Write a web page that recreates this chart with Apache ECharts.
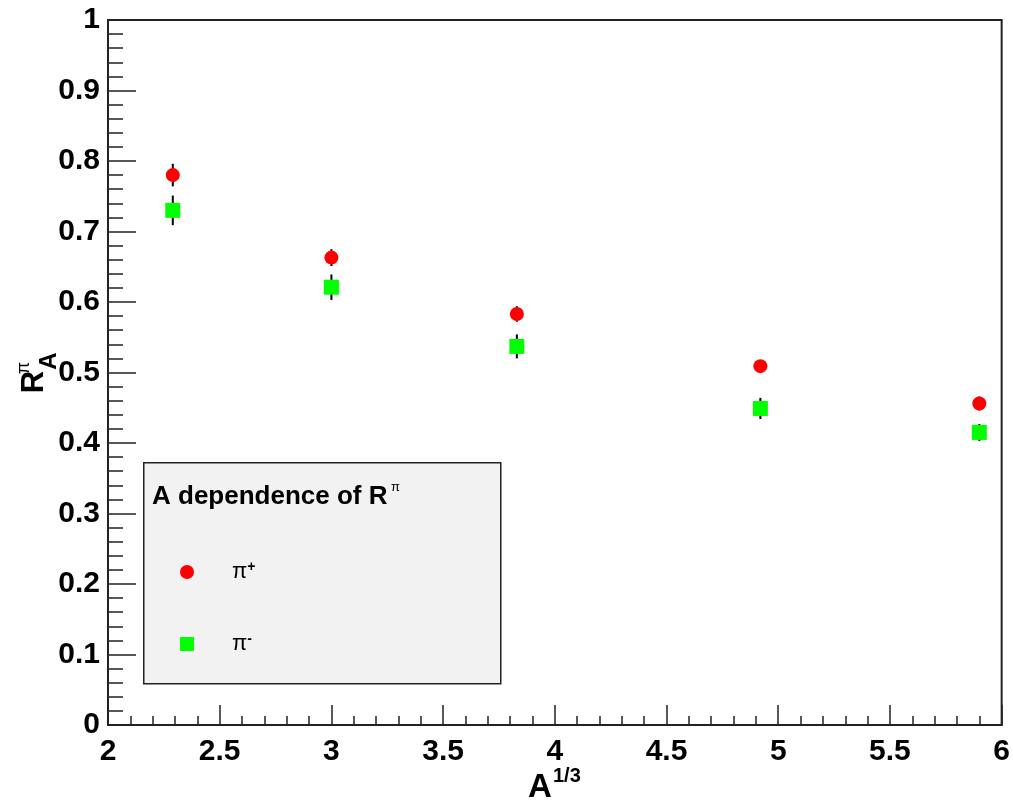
<!DOCTYPE html>
<html>
<head>
<meta charset="utf-8">
<script src="https://cdn.jsdelivr.net/npm/echarts@6/dist/echarts.min.js"></script>
<style>
  html, body { margin: 0; padding: 0; background: #fff; }
  #chart { width: 1013px; height: 801px; }
</style>
</head>
<body>
<div id="chart"></div>
<script>
// A^(1/3) of each target and the measured R_A for pi+ / pi-
const aThird = [2.29, 3.0, 3.83, 4.92, 5.90];
const piPlus = [0.780, 0.663, 0.583, 0.509, 0.456];
const piPlusErr = [0.016, 0.012, 0.011, 0.008, 0.010];
const piMinus = [0.730, 0.621, 0.537, 0.449, 0.415];
const piMinusErr = [0.021, 0.018, 0.017, 0.015, 0.012];

const font = 'Liberation Sans, Arial, sans-serif';
const chart = echarts.init(document.getElementById('chart'));

// points as [x, y, err]
function points(ys, errs) {
  return aThird.map((x, i) => [x, ys[i], errs[i]]);
}

function errorBars(name, ys, errs) {
  return {
    name: name + '_err',
    type: 'custom',
    z: 1,
    silent: true,
    data: points(ys, errs),
    renderItem(params, api) {
      const x = api.value(0), y = api.value(1), e = api.value(2);
      const p1 = api.coord([x, y - e]);
      const p2 = api.coord([x, y + e]);
      return {
        type: 'line',
        shape: { x1: p1[0], y1: p1[1], x2: p2[0], y2: p2[1] },
        style: { stroke: '#000', lineWidth: 2 }
      };
    }
  };
}

const option = {
  backgroundColor: '#fff',
  animation: false,
  grid: {
    left: 108, right: 11, top: 20, bottom: 76,
    show: true, borderColor: '#222', borderWidth: 2, backgroundColor: 'transparent'
  },
  xAxis: {
    type: 'value', min: 2, max: 6, interval: 0.5,
    axisLine: { show: true, lineStyle: { color: '#222', width: 2 } },
    axisTick: { show: true, inside: true, length: 20, lineStyle: { color: '#222', width: 1.5 } },
    minorTick: { show: true, splitNumber: 5, length: 9, lineStyle: { color: '#222', width: 1.5 } },
    splitLine: { show: false },
    axisLabel: { color: '#000', fontSize: 30, fontWeight: 'bold', fontFamily: font, margin: 12 }
  },
  yAxis: {
    type: 'value', min: 0, max: 1, interval: 0.1,
    axisLine: { show: true, lineStyle: { color: '#222', width: 2 } },
    axisTick: { show: true, inside: true, length: 28, lineStyle: { color: '#222', width: 1.5 } },
    minorTick: { show: true, splitNumber: 5, length: 15, lineStyle: { color: '#222', width: 1.5 } },
    splitLine: { show: false },
    axisLabel: { color: '#000', fontSize: 30, fontWeight: 'bold', fontFamily: font, margin: 8 }
  },
  legend: {
    orient: 'vertical',
    left: 175, top: 555,
    itemWidth: 14, itemHeight: 14, itemGap: 48,
    data: [{ name: 'pip', icon: 'circle' }, { name: 'pim', icon: 'rect' }],
    formatter: name => name === 'pip' ? '{p|π}{s|+}' : '{p|π}{s|-}',
    textStyle: {
      padding: [0, 0, 0, 33],
      lineHeight: 24,
      rich: {
        p: { fontSize: 22, fontFamily: font, color: '#000', lineHeight: 24 },
        s: { fontSize: 14, fontFamily: font, fontWeight: 'bold', color: '#000', verticalAlign: 'top', lineHeight: 24 }
      }
    }
  },
  graphic: [
    // legend frame
    {
      type: 'rect', z: -1, left: 143, top: 462,
      shape: { width: 357, height: 221 },
      style: { fill: '#f2f2f2', stroke: '#222', lineWidth: 1.5 }
    },
    {
      type: 'text', left: 152, top: 484, z: 5,
      style: { text: 'A dependence of R', font: 'bold 26px ' + font, fill: '#000' }
    },
    {
      type: 'text', left: 391, top: 481, z: 5,
      style: { text: 'π', font: '13px ' + font, fill: '#000' }
    },
    // y axis title  R_A^pi
    {
      type: 'text', x: 34, y: 382, rotation: Math.PI / 2, z: 5,
      style: { text: 'R', font: 'bold 31px ' + font, fill: '#000', align: 'center', verticalAlign: 'middle' }
    },
    {
      type: 'text', x: 49, y: 361, rotation: Math.PI / 2, z: 5,
      style: { text: 'A', font: 'bold 24px ' + font, fill: '#000', align: 'center', verticalAlign: 'middle' }
    },
    {
      type: 'text', x: 24, y: 368, rotation: Math.PI / 2, z: 5,
      style: { text: 'π', font: '18px ' + font, fill: '#000', align: 'center', verticalAlign: 'middle' }
    },
    // x axis title  A^(1/3)
    {
      type: 'text', x: 540, y: 788, z: 5,
      style: { text: 'A', font: 'bold 33px ' + font, fill: '#000', align: 'center', verticalAlign: 'middle' }
    },
    {
      type: 'text', x: 553, y: 776, z: 5,
      style: { text: '1/3', font: 'bold 20px ' + font, fill: '#000', align: 'left', verticalAlign: 'middle' }
    }
  ],
  series: [
    errorBars('pip', piPlus, piPlusErr),
    errorBars('pim', piMinus, piMinusErr),
    {
      name: 'pip', type: 'scatter', z: 3,
      symbol: 'circle', symbolSize: 14,
      itemStyle: { color: '#ff0000', opacity: 1 },
      data: points(piPlus, piPlusErr)
    },
    {
      name: 'pim', type: 'scatter', z: 3,
      symbol: 'rect', symbolSize: 15,
      itemStyle: { color: '#00ff00', opacity: 1 },
      data: points(piMinus, piMinusErr)
    }
  ]
};

chart.setOption(option);
</script>
</body>
</html>
